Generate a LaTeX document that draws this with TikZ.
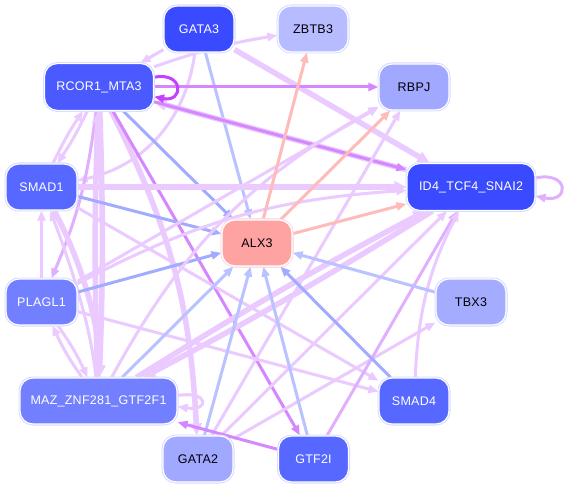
\documentclass[tikz,border=0pt]{standalone}
\usepackage{fontspec}
\newfontfamily\nodefont[LetterSpace=2]{Liberation Sans}
\usetikzlibrary{arrows.meta,backgrounds}
\definecolor{Lc}{RGB}{234,202,255}
\definecolor{Lm}{RGB}{224,176,255}
\definecolor{Vc}{RGB}{214,134,255}
\definecolor{VD}{RGB}{196,64,255}
\definecolor{Bc}{RGB}{186,194,255}
\definecolor{Bd}{RGB}{162,172,255}
\definecolor{Sc}{RGB}{255,186,186}
\definecolor{nA}{RGB}{58,74,255}
\definecolor{nB}{RGB}{74,90,255}
\definecolor{nC}{RGB}{86,104,255}
\definecolor{nD}{RGB}{114,128,255}
\definecolor{nE}{RGB}{160,168,255}
\definecolor{nF}{RGB}{182,188,255}
\definecolor{nG}{RGB}{164,172,255}
\definecolor{nR}{RGB}{255,162,162}
\definecolor{rim}{RGB}{214,216,255}
\definecolor{rimR}{RGB}{255,222,222}
\begin{document}
\begin{tikzpicture}[x=1pt,y=-1pt,
  nd/.style={rectangle,rounded corners=13pt,minimum height=46pt,minimum width=70pt,
    inner sep=0pt,font=\fontsize{12.5}{14}\nodefont,draw=white,line width=1.2pt,
    preaction={draw=rim,line width=3pt}},
  dk/.style={nd,text=white},
  lt/.style={nd,text=black},
  e/.style={line width=3pt,-{Triangle[length=10pt,width=8pt]}},
  ek/.style={line width=5.5pt,-{Triangle[length=12pt,width=11pt]}}]
\useasboundingbox (0,0) rectangle (565,489);
\node[dk,fill=nA] (gata3) at (199,29) {GATA3};
\node[lt,fill=nF] (zbtb3) at (313,29) {ZBTB3};
\node[dk,fill=nB,minimum width=109pt,minimum height=47pt] (rcor) at (99,87) {RCOR1\_MTA3};
\node[lt,fill=nE] (rbpj) at (414,87) {RBPJ};
\node[dk,fill=nC,minimum width=71pt] (smad1) at (41.5,187) {SMAD1};
\node[dk,fill=nA,minimum width=128pt,minimum height=47pt] (id4) at (471,187) {ID4\_TCF4\_SNAI2};
\node[lt,fill=nR,preaction={draw=rimR,line width=3pt}] (alx) at (257,243) {ALX3};
\node[dk,fill=nD,minimum width=71pt] (plagl) at (41.5,302) {PLAGL1};
\node[lt,fill=nG] (tbx3) at (471,302) {TBX3};
\node[dk,fill=nD,minimum width=157pt] (maz) at (98.5,401) {MAZ\_ZNF281\_GTF2F1};
\node[dk,fill=nC] (smad4) at (414,401) {SMAD4};
\node[lt,fill=nE] (gata2) at (198,459) {GATA2};
\node[dk,fill=nC] (gtf2i) at (313.5,459) {GTF2I};
\begin{pgfonlayer}{background}
\fill[white] (0,0) rectangle (565,489);
\draw[e,Lc] (gata3) -- (rcor);
\draw[e,Lc] (gata3) to[bend left=35] (smad1);
\draw[e,Bc] (gata3) -- (alx);
\draw[ek,Lc] (gata3) -- (id4);
\draw[e,Lc] (rcor) to[bend left=5] (zbtb3);
\draw[e,Vc] (rcor) -- (rbpj);
\draw[ek,Lc] (id4) -- (rcor);
\draw[e,Vc] (rcor) -- (id4);
\draw[e,Bd] (rcor) -- (alx);
\draw[e,Lc] (rcor) to[bend left=4] (smad1);
\draw[e,Lc] (smad1) to[bend left=4] (rcor);
\draw[e,Lm] (rcor) to[bend left=8] (plagl);
\draw[ek,Lc] (rcor) to[bend left=2] (maz);
\draw[ek,Lc] (maz) to[bend left=2] (rcor);
\draw[ek,Lc] (rcor) to[bend left=12] (gata2);
\draw[e,Vc] (rcor) -- (gtf2i);
\draw[ek,Lc] (smad1) -- (id4);
\draw[e,Bd] (smad1) -- (alx);
\draw[e,Lc] (smad1) -- (smad4);
\draw[ek,Lc] (smad1) .. controls (78,255) and (100,320) .. (maz);
\draw[e,Lc] (maz) .. controls (90,320) and (68,258) .. (smad1);
\draw[e,Lc] (plagl) -- (smad1);
\draw[e,Bd] (plagl) -- (alx);
\draw[e,Lc] (plagl) -- (smad4);
\draw[e,Lc] (plagl) -- (rbpj);
\draw[e,Lc] (plagl) to[bend left=12] (id4);
\draw[e,Lc] (plagl) to[bend left=5] (maz);
\draw[e,Lc] (maz) to[bend left=5] (plagl);
\draw[e,Bc] (maz) -- (alx);
\draw[ek,Lc] (maz) to[bend left=2] (id4);
\draw[ek,Lc] (id4) to[bend left=2] (maz);
\draw[e,Lc] (maz) to[bend left=16] (rbpj);
\draw[e,Lc] (maz.4) .. controls +(32,-5) and +(32,5) .. (maz.-4);
\draw[e,Bc] (gata2) -- (alx);
\draw[e,Lc] (gata2) -- (rbpj);
\draw[e,Lc] (gata2) -- (id4);
\draw[e,Lc] (gata2) -- (tbx3);
\draw[e,Bc] (gtf2i) -- (alx);
\draw[e,Vc] (gtf2i) -- (maz);
\draw[e,Lm] (gtf2i) -- (id4);
\draw[e,Bd] (smad4) -- (alx);
\draw[e,Lc] (smad4) to[bend left=12] (id4);
\draw[e,Bc] (tbx3) -- (alx);
\draw[e,Sc] (alx) -- (zbtb3);
\draw[e,Sc] (alx) -- (rbpj);
\draw[e,Sc] (alx) -- (id4);
\draw[e,VD] (rcor.10) .. controls +(30,-6) and +(30,6) .. (rcor.-10);
\draw[e,Lm] (id4.8) .. controls +(34,-7) and +(34,7) .. (id4.-8);
\end{pgfonlayer}
\end{tikzpicture}
\end{document}
